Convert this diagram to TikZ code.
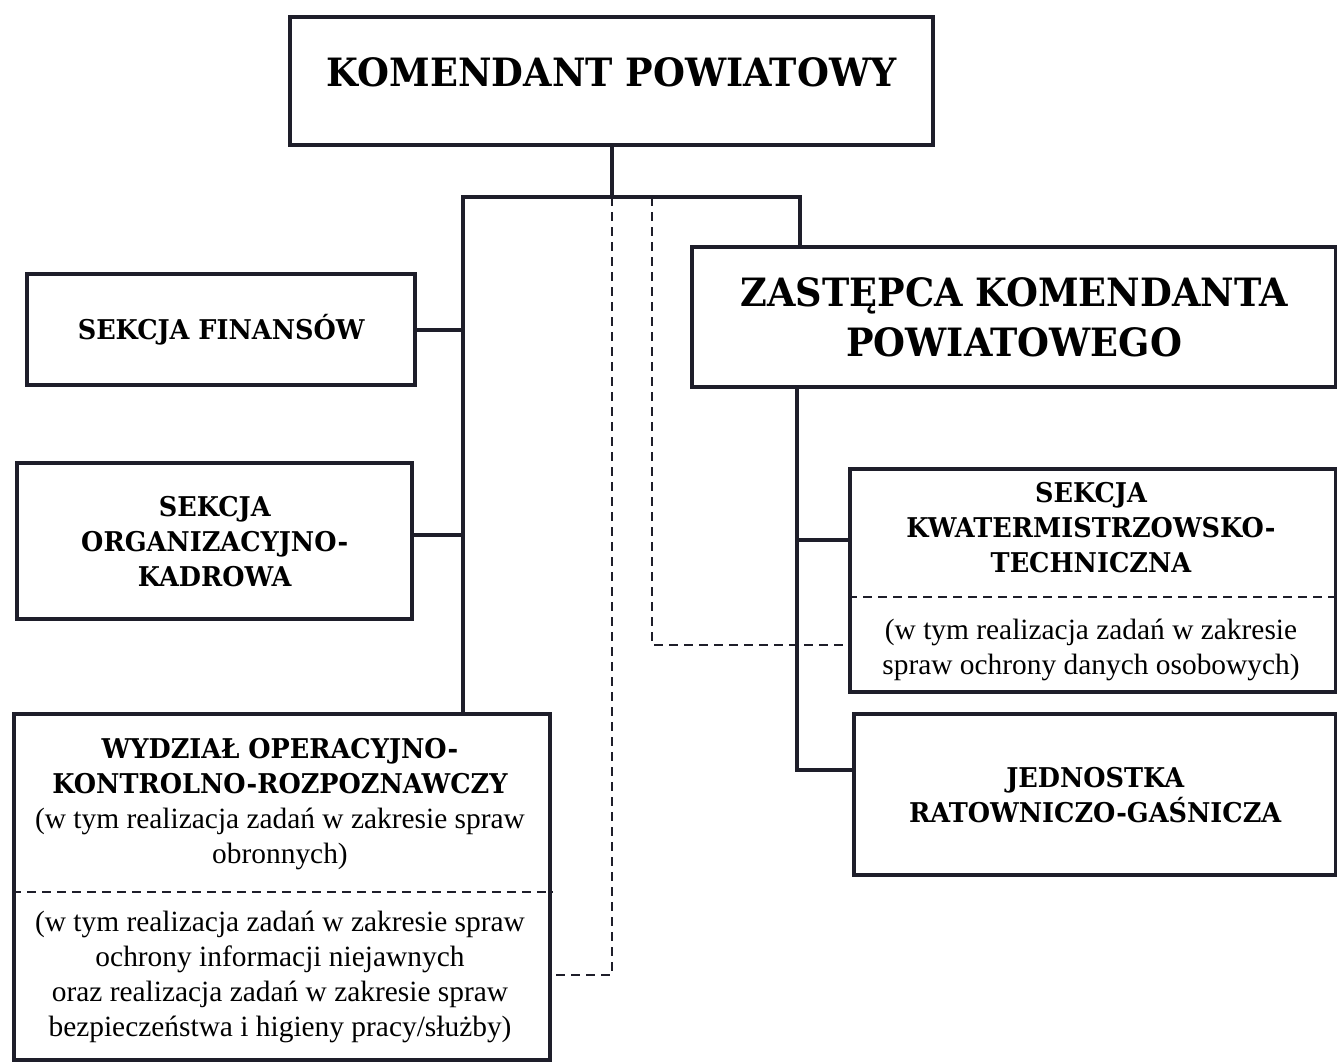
\documentclass[tikz,border=0pt]{standalone}
\usepackage{fontspec}
\setmainfont{Liberation Serif}
\newfontfamily\unitfont{DejaVu Serif}[FakeStretch=0.94]
\usetikzlibrary{positioning, calc}
\definecolor{inkDark}{HTML}{1E1E2A}
\tikzset{
    unitbox/.style={draw=inkDark, line width=2.2pt, inner sep=0pt, align=center},
    headtext/.style={font=\fontsize{19.5}{25}\selectfont\unitfont\bfseries},
    unittext/.style={font=\fontsize{13.6}{17.5}\selectfont\unitfont\bfseries},
    remarktext/.style={font=\fontsize{14.7}{17.5}\selectfont, align=center, inner sep=0pt},
    solidlink/.style={draw=inkDark, line width=2pt},
    dashlink/.style={draw=inkDark, line width=1.2pt, dash pattern=on 4.5pt off 3pt}
}

\begin{document}
\begin{tikzpicture}[x=0.5pt, y=-0.5pt]
    \useasboundingbox (0,0) rectangle (1337,1062);

    % Top level
    \node[unitbox, headtext, text depth=9pt, anchor=north west, minimum width=321.5pt, minimum height=64pt] (kp) at (288,15) {KOMENDANT POWIATOWY};

    % Left column
    \node[unitbox, unittext, anchor=north west, minimum width=194pt, minimum height=55.5pt] (fin) at (25,272) {SEKCJA FINANSÓW};
    \node[unitbox, unittext, anchor=north west, minimum width=197.5pt, minimum height=78pt] (org) at (15,461) {SEKCJA\\ORGANIZACYJNO-\\KADROWA};
    \node[unitbox, anchor=north west, minimum width=268pt, minimum height=173pt] (wyd) at (12,712) {};
    \node[remarktext] (wydTop) at (280,804) {{\fontsize{13.6}{17.5}\selectfont\unitfont\bfseries WYDZIAŁ OPERACYJNO-}\\{\fontsize{13.6}{17.5}\selectfont\unitfont\bfseries KONTROLNO-ROZPOZNAWCZY}\\(w tym realizacja zadań w zakresie spraw\\obronnych)};
    \node[remarktext] (wydBot) at (280,977) {(w tym realizacja zadań w zakresie spraw\\ochrony informacji niejawnych\\oraz realizacja zadań w zakresie spraw\\bezpieczeństwa i higieny pracy/służby)};
    \draw[dashlink] (wyd.west |- 0,892) -- (wyd.east |- 0,892);

    % Right column
    \node[unitbox, headtext, anchor=north west, minimum width=322pt, minimum height=70pt] (zas) at (690,245) {ZASTĘPCA KOMENDANTA\\POWIATOWEGO};
    \node[unitbox, anchor=north west, minimum width=243pt, minimum height=111.5pt] (kw) at (848,467) {};
    \node[remarktext, font=\fontsize{13.6}{17.5}\selectfont\unitfont\bfseries] (kwTop) at (1091,528) {SEKCJA\\KWATERMISTRZOWSKO-\\TECHNICZNA};
    \node[remarktext] (kwBot) at (1091,650) {(w tym realizacja zadań w zakresie\\spraw ochrony danych osobowych)};
    \draw[dashlink] (kw.west |- 0,597) -- (kw.east |- 0,597);
    \node[unitbox, unittext, anchor=north west, minimum width=241pt, minimum height=80.5pt] (jed) at (852,712) {JEDNOSTKA\\RATOWNICZO-GAŚNICZA};

    % Solid connectors
    \coordinate (busL) at (463,197);
    \coordinate (busR) at (800,197);
    \coordinate (zasOut) at (797,385);
    \draw[solidlink] (kp.south) -- (kp.south |- busL);
    \draw[solidlink] (busL |- wyd.north) -- (busL) -- (busR) -- (busR |- zas.north);
    \draw[solidlink] (fin.east) -- (fin.east -| busL);
    \draw[solidlink] (org.east |- 0,535) -- (busL |- 0,535);
    \draw[solidlink] (zasOut) |- (jed.west |- 0,770);
    \draw[solidlink] (zasOut |- 0,540) -- (kw.west |- 0,540);

    % Dashed connectors
    \coordinate (tapR) at (652,197);
    \draw[dashlink] (kp.south |- busL) -- (kp.south |- 0,975) -- (wyd.east |- 0,975);
    \draw[dashlink] (tapR) |- (kw.west |- 0,645);
\end{tikzpicture}
\end{document}
